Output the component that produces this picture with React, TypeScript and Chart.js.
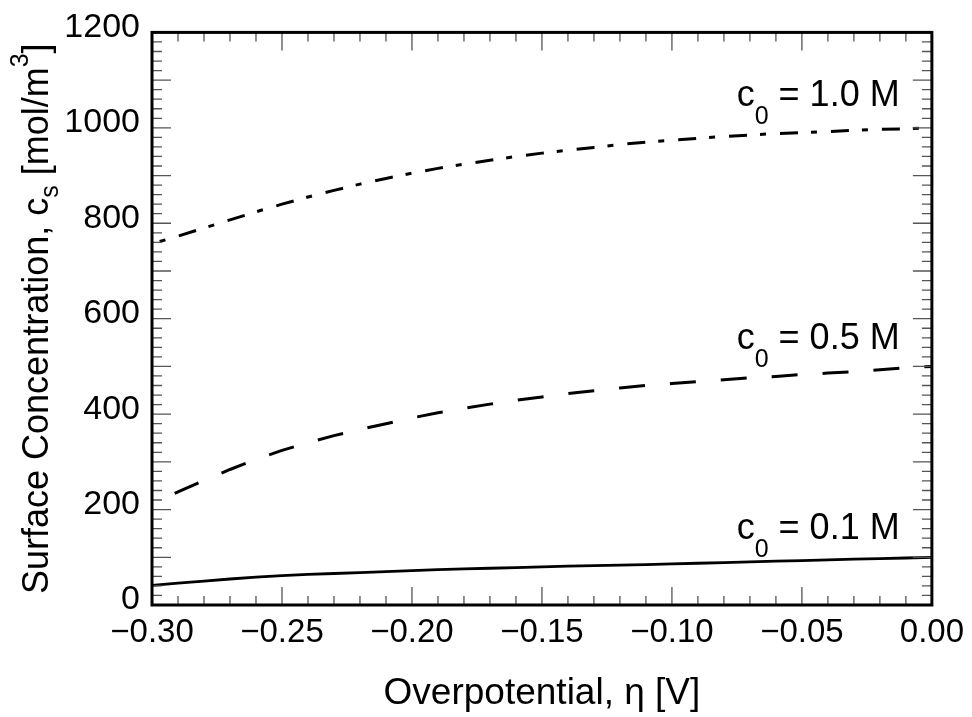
import React, { useEffect, useRef } from "react";
import { Chart, registerables } from "chart.js";

Chart.register(...registerables);

// Overpotential grid [V]
const overpotential = [
  -0.3, -0.29, -0.28, -0.27, -0.26, -0.25, -0.24, -0.23, -0.22, -0.21,
  -0.2, -0.19, -0.18, -0.17, -0.16, -0.15, -0.14, -0.13, -0.12, -0.11,
  -0.1, -0.09, -0.08, -0.07, -0.06, -0.05, -0.04, -0.03, -0.02, -0.01, 0.0,
];

// Surface concentration [mol/m^3] for each bulk concentration
const surfaceConc_1_0M = [
  757, 773, 790, 807, 824, 840, 855, 869, 882, 894,
  905, 915, 924, 932, 940, 947, 953, 959, 965, 970,
  974, 978, 982, 985, 988, 990, 992, 995, 997, 998, 1000,
];
const surfaceConc_0_5M = [
  212, 237, 261, 284, 305, 324, 340, 355, 368, 380,
  392, 403, 412, 421, 429, 436, 443, 449, 455, 460,
  464, 468, 472, 476, 479, 483, 486, 489, 493, 497, 500,
];
const surfaceConc_0_1M = [
  41, 46, 50, 54.5, 58.5, 61.5, 64, 66, 68, 70,
  72, 74, 75.5, 77, 78.5, 80, 81.5, 82.5, 83.5, 84.5,
  86, 87.5, 89, 90.5, 92, 93, 94.5, 96, 97, 98.5, 100,
];

// Axis tick values
const xTickValues = [-0.3, -0.25, -0.2, -0.15, -0.1, -0.05, 0];
const yTickValues = [0, 200, 400, 600, 800, 1000, 1200];

// Curve labels: bulk concentration text
const curveLabelValues = ["1.0", "0.5", "0.1"];

const FONT = "'Liberation Sans', Arial, Helvetica, sans-serif";

const formatX = (v: number) => {
  const s = Math.abs(v).toFixed(2);
  return Math.abs(v) < 1e-9 ? "0.00" : "\u2212" + s;
};

// Inward major/minor ticks, frame, axis titles and curve labels
const decorPlugin = {
  id: "decor",
  afterDraw(chart: any) {
    const { ctx, chartArea: a, scales } = chart;
    const xs = scales.x;
    const ys = scales.y;
    ctx.save();

    // ticks
    ctx.strokeStyle = "#555";
    ctx.lineWidth = 1.3;
    ctx.beginPath();
    for (let i = 0; i <= 30; i++) {
      const v = -0.3 + i * 0.01;
      const px = xs.getPixelForValue(v);
      const len = i % 5 === 0 ? 18 : 9;
      ctx.moveTo(px, a.bottom);
      ctx.lineTo(px, a.bottom - len);
      ctx.moveTo(px, a.top);
      ctx.lineTo(px, a.top + len);
    }
    for (let j = 0; j <= 60; j++) {
      const v = j * 20;
      const py = ys.getPixelForValue(v);
      const len = j % 5 === 0 ? 19 : 10;
      ctx.moveTo(a.left, py);
      ctx.lineTo(a.left + len, py);
      ctx.moveTo(a.right, py);
      ctx.lineTo(a.right - len, py);
    }
    ctx.stroke();

    // frame
    ctx.strokeStyle = "#000";
    ctx.lineWidth = 3;
    ctx.strokeRect(a.left, a.top, a.right - a.left, a.bottom - a.top);

    ctx.fillStyle = "#000";
    ctx.textBaseline = "alphabetic";
    ctx.textAlign = "left";

    // x-axis title
    const xTitle = "Overpotential, \u03b7 [V]";
    ctx.font = `37px ${FONT}`;
    const xw = ctx.measureText(xTitle).width;
    ctx.fillText(xTitle, (a.left + a.right) / 2 - xw / 2, 704);

    // y-axis title (rotated) with subscript and superscript
    const mainF = `36px ${FONT}`;
    const smallF = `25px ${FONT}`;
    const parts: [string, string, number][] = [
      ["Surface Concentration, c", mainF, 0],
      ["s", smallF, 10],
      [" [mol/m", mainF, 0],
      ["3", smallF, -20],
      ["]", mainF, 0],
    ];
    let total = 0;
    for (const [t, f] of parts) {
      ctx.font = f;
      total += ctx.measureText(t).width;
    }
    ctx.save();
    ctx.translate(48, (a.top + a.bottom) / 2);
    ctx.rotate(-Math.PI / 2);
    let u = -total / 2;
    for (const [t, f, dv] of parts) {
      ctx.font = f;
      ctx.fillText(t, u, dv);
      u += ctx.measureText(t).width;
    }
    ctx.restore();

    // curve labels, right-aligned near the right edge
    const labelX = -0.0124;
    const labelY = [1045, 536, 139];
    curveLabelValues.forEach((val, k) => {
      const right = xs.getPixelForValue(labelX);
      const base = ys.getPixelForValue(labelY[k]);
      const segs: [string, string, number][] = [
        ["c", mainF, 0],
        ["0", smallF, 18],
        [` = ${val} M`, mainF, 0],
      ];
      let w = 0;
      for (const [t, f] of segs) {
        ctx.font = f;
        w += ctx.measureText(t).width;
      }
      let x = right - w;
      for (const [t, f, dy] of segs) {
        ctx.font = f;
        ctx.fillText(t, x, base + dy);
        x += ctx.measureText(t).width;
      }
    });

    ctx.restore();
  },
};

export default function App() {
  const ref = useRef<HTMLCanvasElement | null>(null);

  useEffect(() => {
    document.body.style.margin = "0";
    const canvas = ref.current;
    if (!canvas) return;
    const toXY = (ys: number[]) => overpotential.map((x, i) => ({ x, y: ys[i] }));

    const chart = new Chart(canvas, {
      type: "line",
      data: {
        datasets: [
          {
            label: "c0 = 1.0 M",
            data: toXY(surfaceConc_1_0M),
            borderColor: "#000",
            borderWidth: 3,
            borderDash: [18, 13, 6, 14],
            borderDashOffset: 23,
            pointRadius: 0,
            tension: 0,
            fill: false,
          },
          {
            label: "c0 = 0.5 M",
            data: toXY(surfaceConc_0_5M),
            borderColor: "#000",
            borderWidth: 3,
            borderDash: [26, 25],
            borderDashOffset: 26,
            pointRadius: 0,
            tension: 0,
            fill: false,
          },
          {
            label: "c0 = 0.1 M",
            data: toXY(surfaceConc_0_1M),
            borderColor: "#000",
            borderWidth: 2.8,
            pointRadius: 0,
            tension: 0,
            fill: false,
          },
        ],
      },
      options: {
        responsive: false,
        maintainAspectRatio: false,
        animation: false,
        layout: { padding: { top: 25, right: 40, left: 0, bottom: 0 } },
        plugins: {
          legend: { display: false },
          tooltip: { enabled: false },
        },
        scales: {
          x: {
            type: "linear",
            min: -0.3,
            max: 0,
            grid: { display: false, drawTicks: false },
            border: { display: false },
            afterBuildTicks: (s: any) => {
              s.ticks = xTickValues.map((value) => ({ value }));
            },
            afterFit: (s: any) => {
              s.height = 112;
            },
            ticks: {
              color: "#000",
              font: { family: FONT, size: 33 },
              padding: 8,
              maxRotation: 0,
              autoSkip: false,
              callback: (v: any) => formatX(Number(v)),
            },
          },
          y: {
            type: "linear",
            min: 0,
            max: 1200,
            grid: { display: false, drawTicks: false },
            border: { display: false },
            afterBuildTicks: (s: any) => {
              s.ticks = yTickValues.map((value) => ({ value }));
            },
            afterFit: (s: any) => {
              s.width = 152;
            },
            ticks: {
              color: "#000",
              font: { family: FONT, size: 34 },
              padding: 12,
              labelOffset: -5,
              autoSkip: false,
              callback: (v: any) => String(v),
            },
          },
        },
      },
      plugins: [decorPlugin],
    });
    return () => chart.destroy();
  }, []);

  return <canvas ref={ref} width={972} height={717} style={{ display: "block" }} />;
}
